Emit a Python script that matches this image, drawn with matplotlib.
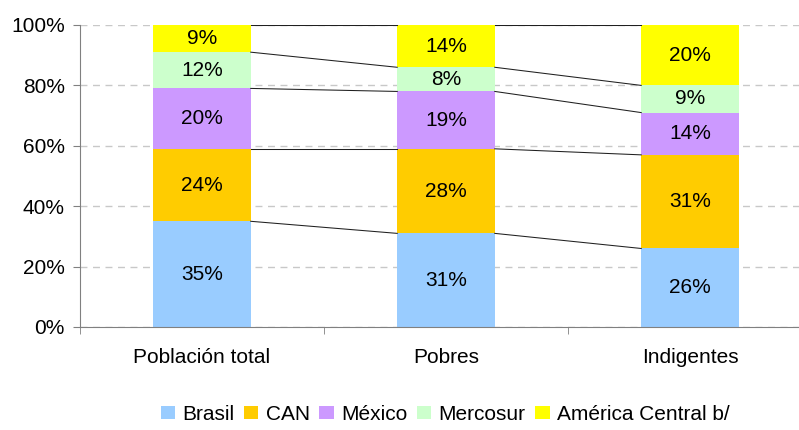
import numpy as np
import matplotlib.pyplot as plt

categories = ['Población total', 'Pobres', 'Indigentes']
series = ['Brasil', 'CAN', 'México', 'Mercosur', 'América Central b/']
brasil = [35, 31, 26]
can = [24, 28, 31]
mexico = [20, 19, 14]
mercosur = [12, 8, 9]
america_central = [9, 14, 20]
colors = ['#99CCFF', '#FFCC00', '#CC99FF', '#CCFFCC', '#FFFF00']

plt.rcParams['font.family'] = ['Liberation Sans', 'DejaVu Sans']

values = np.array([brasil, can, mexico, mercosur, america_central], dtype=float)
x = np.arange(len(categories))
width = 0.4

fig = plt.figure(figsize=(7.99, 4.30), dpi=100)
ax = fig.add_axes([80 / 799, 1 - 327 / 430, 1 - 80 / 799, 302 / 430])

bottom = np.zeros(len(categories))
for vals, name, col in zip(values, series, colors):
    ax.bar(x, vals, width, bottom=bottom, color=col, label=name, zorder=2)
    for xi, b, v in zip(x, bottom, vals):
        ax.text(xi, b + v / 2, f'{v:.0f}%', ha='center', va='center',
                fontsize=15, zorder=4)
    top = bottom + vals
    # connector lines between bars
    for i in range(len(categories) - 1):
        ax.plot([x[i] + width / 2, x[i + 1] - width / 2], [top[i], top[i + 1]],
                color='#202020', lw=0.75, zorder=3)
    bottom = top

ax.set_yticks(range(0, 101, 20))
ax.set_yticklabels([f'{v}%' for v in range(0, 101, 20)], fontsize=15)
ax.set_xticks(x)
ax.set_xticklabels(categories, fontsize=15)
ax.tick_params(axis='x', which='major', length=0, pad=15)
ax.set_xticks([-0.5, 0.5, 1.5], minor=True)
ax.tick_params(axis='x', which='minor', length=5, color='#808080')
ax.tick_params(axis='y', length=5, color='#808080', pad=6)
ax.set_xlim(-0.5, -0.5 + 719 / 244)
ax.set_ylim(0, 100)
ax.yaxis.grid(True, linestyle=(0, (5, 4)), color='#C8C8C8', lw=1, zorder=0)
for s in ['top', 'right']:
    ax.spines[s].set_visible(False)
for s in ['left', 'bottom']:
    ax.spines[s].set_color('#808080')

fig.legend(loc='center', bbox_to_anchor=(445 / 799, 1 - 414 / 430), ncol=5,
           frameon=False, handlelength=0.7, handleheight=0.6, handletextpad=0.35,
           columnspacing=0.45, fontsize=15, borderpad=0)

fig.savefig('out.png', dpi=100)
